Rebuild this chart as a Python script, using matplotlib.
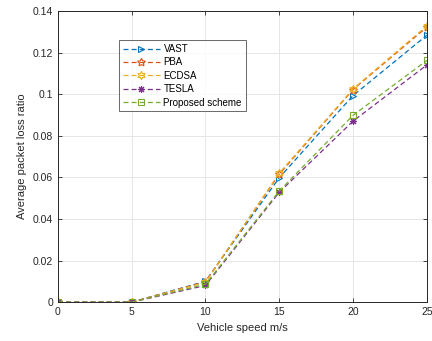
import matplotlib
matplotlib.use("Agg")
import matplotlib.pyplot as plt

plt.rcParams['font.family'] = ['Liberation Sans', 'DejaVu Sans']

speed = [0, 5, 10, 15, 20, 25]
vast = [0, 0, 0.0100, 0.0598, 0.0993, 0.1283]
pba = [0, 0, 0.0098, 0.0615, 0.1022, 0.1322]
ecdsa = [0, 0, 0.0095, 0.0620, 0.1025, 0.1328]
tesla = [0, 0, 0.0080, 0.0528, 0.0870, 0.1140]
proposed = [0, 0, 0.0086, 0.0534, 0.0898, 0.1162]

series_names = ['VAST', 'PBA', 'ECDSA', 'TESLA', 'Proposed scheme']
colors = ['#0072BD', '#D95319', '#EDB120', '#7E2F8E', '#77AC30']
# triangle, pentagram, hexagram, asterisk, square
markers = ['>', (5, 1, 0), (6, 1, 0), (8, 2, 0), 's']
sizes = [5, 6, 6, 5, 4.5]

yticks = [0, 0.02, 0.04, 0.06, 0.08, 0.1, 0.12, 0.14]
ytick_labels = ['0', '0.02', '0.04', '0.06', '0.08', '0.1', '0.12', '0.14']
xticks = [0, 5, 10, 15, 20, 25]

fig = plt.figure(figsize=(4.32, 3.41), dpi=100)
ax = fig.add_axes([0.134, 0.114, 0.854, 0.854])

for vals, name, c, m, ms in zip([vast, pba, ecdsa, tesla, proposed],
                                series_names, colors, markers, sizes):
    ax.plot(speed, vals, linestyle='--', color=c, linewidth=0.9,
            marker=m, markersize=ms, markerfacecolor='none',
            markeredgecolor=c, markeredgewidth=0.8, label=name,
            dashes=(4, 2.5))

ax.set_xlim(0, 25)
ax.set_ylim(0, 0.14)
ax.set_xticks(xticks)
ax.set_xticklabels([str(x) for x in xticks])
ax.set_yticks(yticks)
ax.set_yticklabels(ytick_labels)
ax.grid(True, color='#e6e6e6', linewidth=0.7)
ax.set_axisbelow(True)
ax.tick_params(direction='in', top=True, right=True, labelsize=7.5,
               length=3, width=0.6, colors='#262626')
for s in ax.spines.values():
    s.set_color('#262626')
    s.set_linewidth(0.7)

ax.set_xlabel('Vehicle speed m/s', fontsize=8, color='#262626', labelpad=4)
ax.set_ylabel('Average packet loss ratio', fontsize=8, color='#262626', labelpad=4)

leg = ax.legend(loc='upper left', bbox_to_anchor=(0.165, 0.900),
                fontsize=7, frameon=True, fancybox=False, edgecolor='#262626',
                borderpad=0.4, labelspacing=0.35, handlelength=3.8,
                handletextpad=0.4, borderaxespad=0)
leg.get_frame().set_linewidth(0.6)

fig.savefig('out.png', dpi=100)
